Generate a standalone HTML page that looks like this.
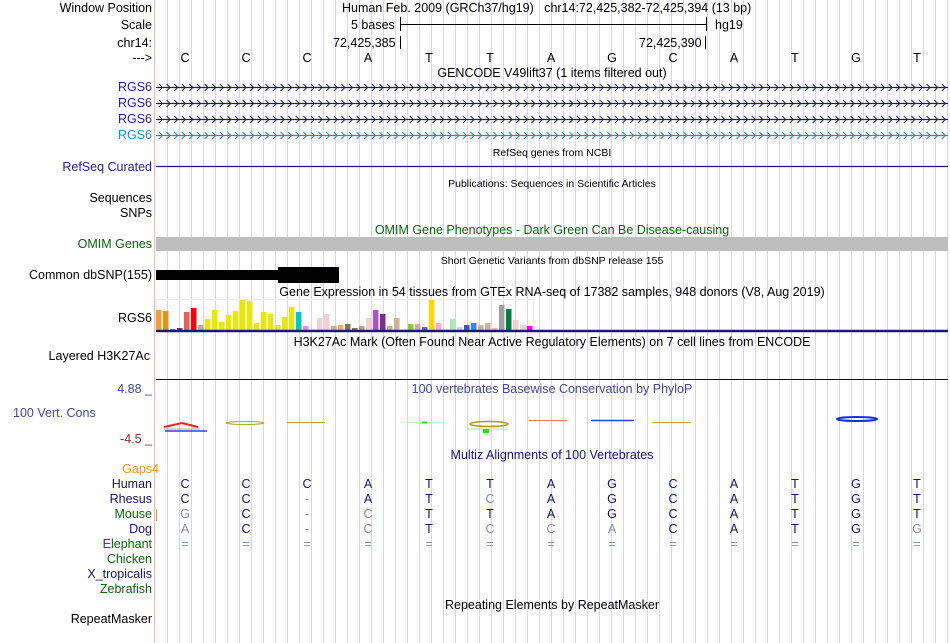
<!DOCTYPE html>
<html><head><meta charset="utf-8">
<style>
html,body{margin:0;padding:0;background:#fff;width:950px;height:643px;overflow:hidden;}
body{position:relative;font-family:"Liberation Sans","DejaVu Sans",sans-serif;font-size:12.5px;}
.t{position:absolute;white-space:nowrap;line-height:14px;}
.l{position:absolute;right:798px;white-space:nowrap;line-height:14px;text-align:right;}
.c{position:absolute;white-space:nowrap;line-height:14px;transform:translateX(-50%);}
.sm{font-size:10.5px;}
svg{position:absolute;left:0;top:0;}
</style></head>
<body>
<svg id="grid" width="950" height="643"></svg>

<div class="l" style="top:1px">Window Position</div>
<div class="t" style="left:342px;top:1px">Human Feb. 2009 (GRCh37/hg19)&nbsp;&nbsp;&nbsp;chr14:72,425,382-72,425,394 (13 bp)</div>
<div class="l" style="top:18px">Scale</div>
<div class="t" style="left:351px;top:18px">5 bases</div>
<div class="t" style="left:715px;top:18px">hg19</div>
<div class="l" style="top:36px">chr14:</div>
<div class="t" style="left:333px;top:36px">72,425,385</div>
<div class="t" style="left:639px;top:36px">72,425,390</div>
<div class="l" style="top:51px">---&gt;</div>
<div id="bases"></div>
<div class="c" style="left:552px;top:66px">GENCODE V49lift37 (1 items filtered out)</div>
<div class="l" style="top:80px;color:#23238d">RGS6</div>
<div class="l" style="top:96px;color:#23238d">RGS6</div>
<div class="l" style="top:112px;color:#23238d">RGS6</div>
<div class="l" style="top:128px;color:#2a88c4">RGS6</div>
<div class="c sm" style="left:552px;top:146px">RefSeq genes from NCBI</div>
<div class="l" style="top:160px;color:#23238d">RefSeq Curated</div>
<div class="c sm" style="left:552px;top:177px">Publications: Sequences in Scientific Articles</div>
<div class="l" style="top:191px">Sequences</div>
<div class="l" style="top:206px">SNPs</div>
<div class="c" style="left:552px;top:223px;color:#0a640a">OMIM Gene Phenotypes - Dark Green Can Be Disease-causing</div>
<div class="l" style="top:237px;color:#0a640a">OMIM Genes</div>
<div class="c sm" style="left:552px;top:254px">Short Genetic Variants from dbSNP release 155</div>
<div class="l" style="top:268px">Common dbSNP(155)</div>
<div class="c" style="left:552px;top:285px">Gene Expression in 54 tissues from GTEx RNA-seq of 17382 samples, 948 donors (V8, Aug 2019)</div>
<div class="l" style="top:311px">RGS6</div>
<div class="c" style="left:552px;top:335px">H3K27Ac Mark (Often Found Near Active Regulatory Elements) on 7 cell lines from ENCODE</div>
<div class="l" style="top:349px;right:800px">Layered H3K27Ac</div>
<div class="l" style="top:382px;color:#44449a">4.88 _</div>
<div class="c" style="left:552px;top:382px;color:#44449a">100 vertebrates Basewise Conservation by PhyloP</div>
<div class="t" style="left:13px;top:406px;color:#44449a">100 Vert. Cons</div>
<div class="l" style="top:432px;color:#8b2a2a">-4.5 _</div>
<div class="c" style="left:552px;top:448px;color:#141470">Multiz Alignments of 100 Vertebrates</div>
<div class="l" style="top:462px;right:791px;color:#f0901a">Gaps4</div>
<div class="l" style="top:477px;color:#141470">Human</div>
<div class="l" style="top:492px;color:#141470">Rhesus</div>
<div class="l" style="top:507px;color:#0a640a">Mouse</div>
<div class="l" style="top:522px;color:#141470">Dog</div>
<div class="l" style="top:537px;color:#0a640a">Elephant</div>
<div class="l" style="top:552px;color:#0a640a">Chicken</div>
<div class="l" style="top:567px;color:#141470">X_tropicalis</div>
<div class="l" style="top:582px;color:#0a640a">Zebrafish</div>
<div class="c" style="left:552px;top:598px">Repeating Elements by RepeatMasker</div>
<div class="l" style="top:612px">RepeatMasker</div>
<div id="aln"></div>

<svg id="fg" width="950" height="643"></svg>

<script>
// ----- data -----
const bases = ["C","C","C","A","T","T","A","G","C","A","T","G","T"];
const rhesus = ["C","C","-","A","T","C","A","G","C","A","T","G","T"];
const mouse  = ["G","C","-","C","T","T","A","G","C","A","T","G","T"];
const dog    = ["A","C","-","C","T","C","C","A","C","A","T","G","G"];
const elephant = ["=","=","=","=","=","=","=","=","=","=","=","=","="];
const gtexValues = [20,19,1,2,18,22,5,11,20,8,15,19,30,29,7,18,16,5,13,23,18,4,0.5,12,16,4,5,6,2,4,12,20,16,4,12,0.5,6,6,3,30,7,0.5,11,3,5,7,5,7,2,25,21,10,5,4];
const gtexColors = ["#f4a040","#e89010","#5a9a7a","#8a2a5a","#e86050","#ff0000","#c8a890","#e8e800","#e8e800","#e8e800","#e8e800","#e8e800","#e8e800","#e8e800","#e8e800","#e8e800","#e8e800","#e8e800","#e8e800","#e8e800","#00c8c8","#ee88ee","#f0d0d0","#f0d0d0","#f0d0d0","#c8b090","#f0b070","#8b7050","#8b7050","#c8a070","#f0d0d0","#b050d0","#7a3090","#c8b090","#d0b098","#d0d0d0","#90c830","#c8b090","#6060e0","#ffd700","#ffb0c0","#d0d0d0","#b0e8b0","#d0d0e0","#4050d0","#1e90ff","#c8b090","#d0b098","#f0c080","#a0a0a0","#008040","#f0d0d0","#f0d0d0","#ff00ff"];

const NS="http://www.w3.org/2000/svg";
const BW=61;
function baseX(i){return 185+i*BW;}
function mk(tag,attrs,parent){const e=document.createElementNS(NS,tag);for(const k in attrs)e.setAttribute(k,attrs[k]);parent.appendChild(e);return e;}

// grid
const grid=document.getElementById('grid');
for(let x=167;x<950;x+=12){
  const ln=mk('line',{x1:x+0.5,y1:0,x2:x+0.5,y2:643,stroke:'#d4d4f8','stroke-width':1},grid);
  
  
}
const pk=mk('line',{x1:154.5,y1:0,x2:154.5,y2:643,stroke:'#ffb0b0','stroke-width':1},grid);



// bases
const bd=document.getElementById('bases');
bases.forEach((b,i)=>{
  const d=document.createElement('div');d.className='c';d.style.left=baseX(i)+'px';d.style.top='51px';d.textContent=b;
  
  
  bd.appendChild(d);
});

// alignment
const al=document.getElementById('aln');
const rows=[[bases,477],[rhesus,492],[mouse,507],[dog,522],[elephant,537]];
rows.forEach((r,ri)=>{
  r[0].forEach((b,i)=>{
    const d=document.createElement('div');d.className='c';d.style.left=baseX(i)+'px';d.style.top=r[1]+'px';d.textContent=b;
    const same = ri===0 || b===bases[i];
    d.style.color = (same && b!=='=' && b!=='-') ? '#141470' : '#8888b4';
    
    
    al.appendChild(d);
  });
});

const fg=document.getElementById('fg');
// scale bar
mk('line',{x1:400,y1:24.5,x2:707,y2:24.5,stroke:'#000'},fg);
mk('line',{x1:400.5,y1:17,x2:400.5,y2:31,stroke:'#000'},fg);
mk('line',{x1:706.5,y1:17,x2:706.5,y2:31,stroke:'#000'},fg);
mk('line',{x1:400.5,y1:36,x2:400.5,y2:49,stroke:'#000'},fg);
mk('line',{x1:705.5,y1:36,x2:705.5,y2:49,stroke:'#000'},fg);
// RGS6 gene lines
[[87,'#1a1a80'],[103,'#1a1a80'],[119,'#1a1a80'],[135,'#2a88c4']].forEach(([y,c],k)=>{
  const g=mk('g',{},fg);
  
  
  mk('line',{x1:156,y1:y+0.5,x2:948,y2:y+0.5,stroke:c,'stroke-width':1.3},g);
  let d='';
  for(let x=159;x<946;x+=7.6){ d+='M'+x.toFixed(1)+' '+(y-3)+' L'+(x+3.5).toFixed(1)+' '+(y+0.5)+' L'+x.toFixed(1)+' '+(y+4)+' '; }
  mk('path',{d:d,fill:'none',stroke:c,'stroke-width':1},g);
});
// refseq line
const rs=mk('line',{x1:156,y1:166.5,x2:948,y2:166.5,stroke:'#1a1a80','stroke-width':1.3},fg);


// omim bar
const om=mk('rect',{x:156,y:237,width:792,height:14,fill:'#bebebe'},fg);


// dbsnp
const s1=mk('rect',{x:156,y:270,width:123,height:10,fill:'#000'},fg);


const s2=mk('rect',{x:278,y:267,width:61,height:16,fill:'#000'},fg);


// gtex
const base=330, hscale=1.0, bstep=7;
mk('rect',{x:156.5,y:299.5,width:377,height:31,fill:'none',stroke:'#ececec'},fg);
gtexValues.forEach((v,i)=>{
  const h=v*hscale;
  const r=mk('rect',{x:156+i*bstep,y:base-h,width:5.5,height:h,fill:gtexColors[i]},fg);
  
  
});
mk('line',{x1:156,y1:331,x2:948,y2:331,stroke:'#1a1a70','stroke-width':2.5},fg);
mk('line',{x1:156,y1:379.5,x2:948,y2:379.5,stroke:'#111','stroke-width':1},fg);
// conservation squiggles
const cons=mk('g',{},fg);


mk('path',{d:'M164 427 L182 423 L198 427',fill:'none',stroke:'#ff2020','stroke-width':2},cons);
mk('line',{x1:164,y1:429,x2:200,y2:429,stroke:'#b0b040','stroke-width':1},cons);
mk('line',{x1:165,y1:431,x2:207,y2:431,stroke:'#3040d0','stroke-width':1.5},cons);
mk('ellipse',{cx:245,cy:423,rx:19,ry:1.5,fill:'none',stroke:'#b0a830','stroke-width':1},cons);
mk('line',{x1:287,y1:422.5,x2:325,y2:422.5,stroke:'#b0a830','stroke-width':1},cons);
mk('line',{x1:406,y1:422.5,x2:444,y2:422.5,stroke:'#c0f0c0','stroke-width':1},cons);
mk('rect',{x:422,y:421.5,width:5,height:2,fill:'#20e020'},cons);
mk('ellipse',{cx:489,cy:424,rx:19,ry:2.5,fill:'none',stroke:'#a89820','stroke-width':1.5},cons);
mk('line',{x1:467,y1:429,x2:508,y2:429,stroke:'#a0e0a0','stroke-width':1},cons);
mk('rect',{x:483,y:429,width:6,height:4,fill:'#20e020'},cons);
mk('line',{x1:529,y1:420.5,x2:567,y2:420.5,stroke:'#f07070','stroke-width':1},cons);
mk('line',{x1:591,y1:420.5,x2:634,y2:420.5,stroke:'#3040e0','stroke-width':1.5},cons);
mk('line',{x1:652,y1:422.5,x2:691,y2:422.5,stroke:'#b0a830','stroke-width':1},cons);
mk('ellipse',{cx:857,cy:419,rx:20,ry:2,fill:'none',stroke:'#1030f0','stroke-width':2},cons);
// gaps4 tick
mk('line',{x1:156.5,y1:509,x2:156.5,y2:521,stroke:'#f0901a','stroke-width':1},fg);
</script>
</body></html>
